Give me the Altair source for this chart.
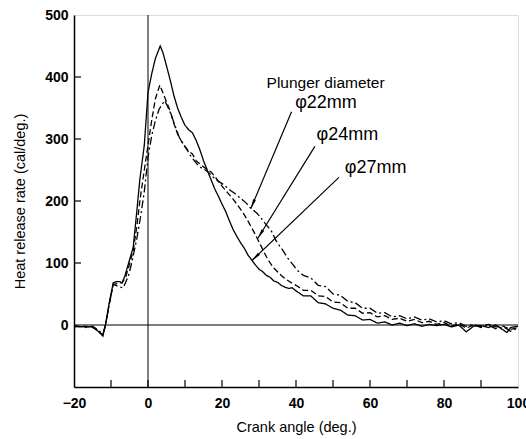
import altair as alt
import pandas as pd

# ---------------- data ----------------
X_27 = [-20, -17, -15, -13.5, -12.2, -11.5, -10.5, -9.4, -8.5, -7.6, -7, -6.2, -5, -4, -3, -2.2, -1, 0, 1, 2, 3.3,
        4, 5, 6, 7, 8, 9, 10, 11, 12, 13, 14, 15, 16, 17, 18, 19, 20, 21, 22, 23, 24, 25, 26, 27, 28, 29, 30,
        31, 32, 33, 34, 35, 36, 37, 38, 39,
        40, 42, 44, 46, 48, 50, 52, 54, 56, 58, 60, 62, 64, 66, 68, 70, 72, 74, 76, 78, 80, 82, 84, 86, 88,
        90, 92, 94, 96, 97, 98, 100]
Y_27 = [-2, -3, -3, -10, -18, 0, 35, 68, 70, 70, 68, 80, 105, 125, 185, 235, 290, 375, 405, 430, 450,
        440, 418, 395, 370, 350, 335, 322, 315, 310, 298, 283, 265, 250, 235, 220, 208, 195, 183, 168, 154, 143,
        133, 124, 113, 105, 97, 90, 86, 80, 77, 71, 69, 64, 61, 59, 60,
        55, 47, 47, 36, 34, 27, 24, 16, 15, 8, 9, 3, 5, 0, 3, -1, 2, -2, 1, -1, 1, -3, 0, -11, -2,
        -1, -4, 0, -8, -12, -4, -2]

X_24 = [-20, -17, -15, -13.5, -12.2, -11.5, -10.5, -9.4, -8, -7, -6, -5, -4, -3, -2.2, -1, 0, 1, 2, 3.2,
        4, 5, 6, 7, 8, 9, 10, 11, 12, 13, 14, 15, 16, 17, 18, 19, 20, 21, 22, 23, 24, 25, 26, 27, 28, 29, 30,
        31, 32, 33, 34, 35, 36, 37, 38, 39,
        40, 42, 44, 46, 48, 50, 52, 54, 56, 58, 60, 62, 64, 66, 68, 70, 72, 74, 76, 78, 80, 82, 84, 86, 88,
        90, 92, 94, 96, 98, 100]
Y_24 = [-3, -2, -4, -9, -16, 0, 33, 65, 68, 68, 78, 98, 120, 160, 200, 250, 290, 330, 365, 387,
        375, 360, 345, 325, 308, 297, 288, 280, 276, 265, 260, 255, 251, 247, 240, 232, 224, 217, 210, 203, 195,
        187, 178, 168, 157, 146, 134, 122, 110, 100, 92, 86, 80, 75, 71, 67,
        64, 56, 56, 47, 46, 37, 36, 27, 27, 19, 20, 13, 15, 9, 11, 6, 9, 4, 6, 1, 4, -2, 2, -5, 0,
        -2, 1, -3, -2, -7, -4]

X_22 = [-20, -17, -15, -13.5, -12.2, -11.5, -10.5, -9.4, -8, -6.7, -5.3, -4.4, -3, -2, -1, 0, 1, 2, 3, 4.5,
        5.5, 6.5, 7.5, 8.5, 9.5, 10.5, 11.5, 12.5, 13.5, 14.5, 15.5, 16.5, 17.5, 18.5, 19.5, 20.5, 21.5, 22.5,
        23.5, 24.5, 25.5, 26.5, 27.5, 28.5, 29.5, 30.5, 31.5, 32.5, 33.5, 34.5, 35.5, 36.5, 37.5, 38.5, 39.5,
        40, 42, 44, 46, 48, 50, 52, 54, 56, 58, 60, 62, 64, 66, 68, 70, 72, 74, 76, 78, 80, 82, 84, 86, 88,
        90, 92, 94, 96, 98, 100]
Y_22 = [-1, -4, -2, -8, -15, -1, 32, 66, 62, 60, 79, 100, 140, 175, 215, 270, 305, 330, 348, 362,
        350, 335, 318, 302, 292, 283, 273, 265, 258, 253, 250, 245, 239, 234, 230, 226, 221, 216,
        212, 207, 202, 197, 190, 185, 180, 173, 165, 158, 150, 137, 128, 120, 110, 102, 95,
        90, 80, 76, 64, 62, 50, 48, 38, 36, 27, 27, 19, 20, 13, 15, 10, 13, 8, 10, 5, 7, 2, 4, -2, 1,
        -4, 0, -6, -3, -10, -5]

SERIES = ["φ22mm", "φ24mm", "φ27mm"]
DASHES = [[8, 3, 2, 3], [6, 3], [1, 0]]

X_TICKS = [-20, 0, 20, 40, 60, 80, 100]
Y_TICKS = [0, 100, 200, 300, 400, 500]
X_MINOR = [-10, 0, 10, 20, 30, 40, 50, 60, 70, 80, 90]
Y_MINOR = [100, 200, 300, 400]

# annotation (label text, position, arrow start, arrow tip, arrowhead angle)
ANN_TEXT = ["φ22mm", "φ24mm", "φ27mm"]
ANN_TX = [48.1, 53.9, 61.5]
ANN_TY = [358, 306, 254]
ARR_X1 = [38.8, 45.1, 51.6]
ARR_Y1 = [344, 288, 238]
ARR_X2 = [27.8, 29.7, 28.1]
ARR_Y2 = [188, 140, 104]
ARR_ANGLE = [202.7, 211.7, 226.3]

FONT = "Liberation Sans"

# ---------------- frames ----------------
rows = []
for name, xs, ys in [("φ22mm", X_22, Y_22), ("φ24mm", X_24, Y_24), ("φ27mm", X_27, Y_27)]:
    for i, (a, b) in enumerate(zip(xs, ys)):
        rows.append({"x": a, "y": b, "series": name, "order": i})
df = pd.DataFrame(rows)

ann = pd.DataFrame({"text": ANN_TEXT, "tx": ANN_TX, "ty": ANN_TY,
                    "x1": ARR_X1, "y1": ARR_Y1, "x2": ARR_X2, "y2": ARR_Y2, "angle": ARR_ANGLE})

xscale = alt.Scale(domain=[-20, 100], nice=False, zero=False)
yscale = alt.Scale(domain=[-100, 500], nice=False, zero=False)

xaxis = alt.Axis(values=X_TICKS, title="Crank angle (deg.)", ticks=False, grid=False, labelFlush=False,
                 labelOverlap=False,
                 labelFont=FONT, labelFontSize=14, labelFontWeight="bold", labelColor="black",
                 labelPadding=9, titleFont=FONT, titleFontSize=14.5, titleFontWeight="normal",
                 titleColor="black", titlePadding=10, domainColor="black", domainWidth=1.5)
yaxis = alt.Axis(values=Y_TICKS, title="Heat release rate (cal/deg.)", ticks=False, grid=False,
                 labelFlush=False,
                 labelFont=FONT, labelFontSize=14, labelFontWeight="bold", labelColor="black",
                 labelPadding=6, titleFont=FONT, titleFontSize=14.5, titleFontWeight="normal",
                 titleColor="black", titlePadding=17, domainColor="black", domainWidth=1.5)

lines = alt.Chart(df).mark_line(color="black", strokeWidth=1.3).encode(
    x=alt.X("x:Q", scale=xscale, axis=xaxis),
    y=alt.Y("y:Q", scale=yscale, axis=yaxis),
    strokeDash=alt.StrokeDash("series:N", scale=alt.Scale(domain=SERIES, range=DASHES), legend=None),
    order="order:Q",
)

hzero = alt.Chart(pd.DataFrame({"y": [0]})).mark_rule(color="black", strokeWidth=1.2).encode(
    y=alt.Y("y:Q", scale=yscale), x=alt.value(0), x2=alt.value(444))
vzero = alt.Chart(pd.DataFrame({"x": [0]})).mark_rule(color="black", strokeWidth=1.0).encode(
    x=alt.X("x:Q", scale=xscale), y=alt.value(0), y2=alt.value(372))

xt = alt.Chart(pd.DataFrame({"x": X_MINOR})).mark_rule(color="black", strokeWidth=1.2).encode(
    x=alt.X("x:Q", scale=xscale), y=alt.value(372), y2=alt.value(365))
yt = alt.Chart(pd.DataFrame({"y": Y_MINOR})).mark_rule(color="black", strokeWidth=1.2).encode(
    y=alt.Y("y:Q", scale=yscale), x=alt.value(0), x2=alt.value(7))

arrows = alt.Chart(ann).mark_rule(color="black", strokeWidth=1.2).encode(
    x=alt.X("x1:Q", scale=xscale), y=alt.Y("y1:Q", scale=yscale), x2="x2:Q", y2="y2:Q")
heads = alt.Chart(ann).mark_point(shape="M0,0L0.3,1.9L-0.3,1.9Z", filled=True, color="black",
                                  opacity=1, size=100).encode(
    x=alt.X("x2:Q", scale=xscale), y=alt.Y("y2:Q", scale=yscale),
    angle=alt.Angle("angle:Q", scale=None))
labels = alt.Chart(ann).mark_text(font=FONT, fontSize=18, color="black", align="center",
                                  baseline="middle").encode(
    x=alt.X("tx:Q", scale=xscale), y=alt.Y("ty:Q", scale=yscale), text="text:N")
title_ann = alt.Chart(pd.DataFrame({"t": ["Plunger diameter"], "x": [48], "y": [391]})).mark_text(
    font=FONT, fontSize=15.5, color="black", align="center", baseline="middle").encode(
    x=alt.X("x:Q", scale=xscale), y=alt.Y("y:Q", scale=yscale), text="t:N")

chart = alt.layer(lines, hzero, vzero, xt, yt, arrows, heads, labels, title_ann).properties(
    width=444, height=372,
    autosize=alt.AutoSizeParams(type="none"),
    padding={"left": 74, "top": 15, "right": 8, "bottom": 52},
).configure_view(stroke="black", strokeWidth=1.5).configure(background="white")

chart.save("out.html", embed_options={"renderer": "svg", "actions": False})
